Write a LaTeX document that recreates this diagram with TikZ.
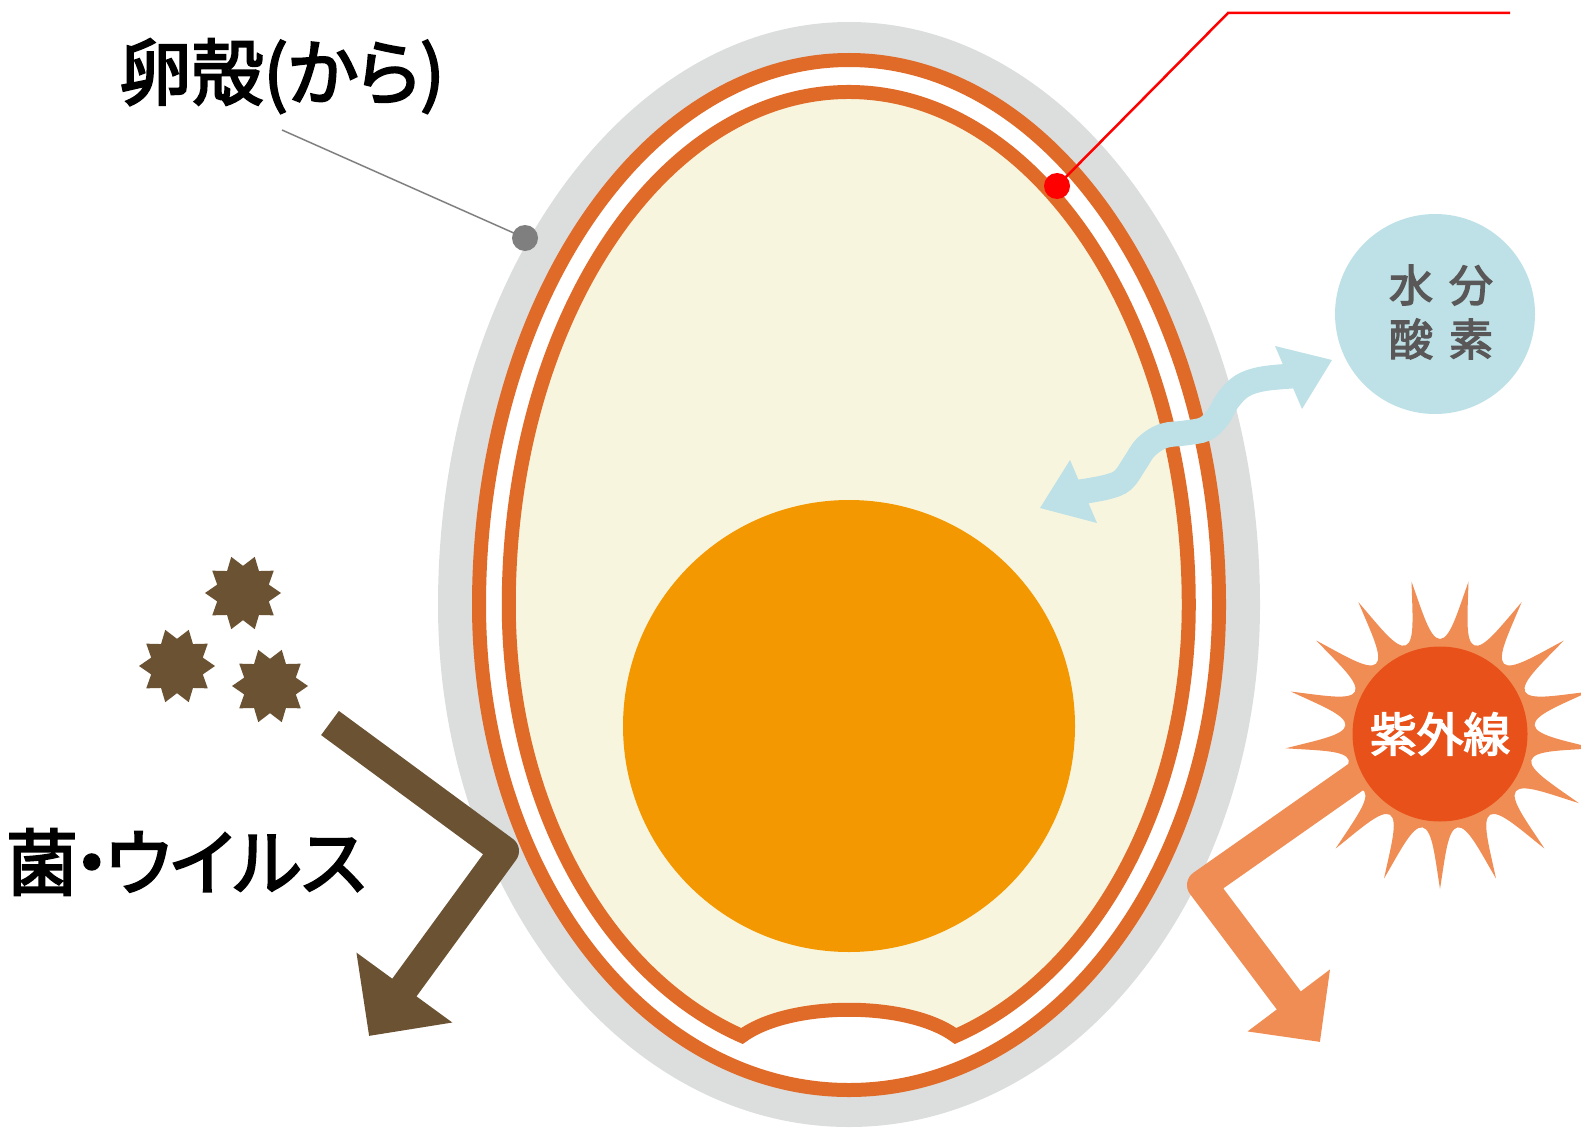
\documentclass[tikz,border=0pt]{standalone}
\usepackage{fontspec}
\usepackage{tikz}
\usetikzlibrary{arrows.meta,shapes.geometric}
\newfontfamily\jpfont[RawFeature=+palt, FakeBold=3]{Noto Sans CJK JP}

\definecolor{shellgray}{HTML}{DCDDDD}
\definecolor{skinorange}{HTML}{E06A27}
\definecolor{whitecream}{HTML}{F8F5DF}
\definecolor{yolkorange}{HTML}{F39800}
\definecolor{airblue}{HTML}{BDE1E6}
\definecolor{germbrown}{HTML}{6A5233}
\definecolor{rayorange}{HTML}{F08D55}
\definecolor{sunred}{HTML}{E8521A}
\definecolor{textgray}{HTML}{595757}
\definecolor{pingray}{HTML}{7F7F7F}

\tikzset{
	germ/.style={star, star points=10, star point ratio=1.4, shape border rotate=18,
		minimum size=7.6mm, inner sep=0pt, fill=germbrown},
	bigarrow/.style={line width=3mm, line join=round},
	biglabel/.style={font=\jpfont\fontsize{20.5pt}{25pt}\selectfont, inner sep=0pt},
}

\begin{document}
\begin{tikzpicture}[x=0.1mm, y=-0.1mm]
		%%%%% START %%%%%
		\useasboundingbox (0,0) rectangle (1581,1128);
		
		% shell and the two membranes
		\fill[shellgray] (438,605) arc[start angle=180, end angle=360, x radius=411, y radius=583]
			arc[start angle=0, end angle=180, x radius=411, y radius=522] -- cycle;
		\draw[skinorange, line width=1.4mm, fill=white] (479,605) arc[start angle=180, end angle=360, x radius=370, y radius=545]
			arc[start angle=0, end angle=180, x radius=370, y radius=485] -- cycle;
		\draw[skinorange, line width=1.4mm, fill=whitecream] (742,1036) arc[start angle=108.3, end angle=180, x radius=340, y radius=454]
			arc[start angle=180, end angle=360, x radius=340, y radius=513]
			arc[start angle=0, end angle=71.7, x radius=340, y radius=454]
			.. controls (908,1001) and (790,1001) .. cycle;
		
		% yolk
		\fill[yolkorange] (849,726) circle[radius=226];
		
		% pointers
		\coordinate (shellfoot) at (282,130);
		\coordinate (shelldot) at (525,238);
		\draw[pingray, line width=0.15mm] (shellfoot) -- (shelldot);
		\fill[pingray] (shelldot) circle[radius=13];
		
		\coordinate (skindot) at (1057,186);
		\coordinate (skinbend) at (1228,13);
		\coordinate (skinend) at (1510,13);
		\draw[red, line width=0.25mm] (skindot) -- (skinbend) -- (skinend);
		\fill[red] (skindot) circle[radius=13];
		
		\node[biglabel] (shelllabel) at (282,76) {卵殻(から)};
		
		% water and oxygen
		\node[circle, fill=airblue, minimum size=20mm, inner sep=0pt] (air) at (1435,314) {};
		\node[text=textgray, align=center, inner sep=0pt,
			font=\jpfont\fontsize{12.5pt}{15.4pt}\selectfont] (airtext) at (1441,312) {水\hspace{1.6mm}分\\酸\hspace{1.6mm}素};
		\draw[airblue, line width=2.5mm]
			plot[smooth, tension=0.6] coordinates {(1080,492) (1107,487) (1123,480) (1135,463) (1146,447) (1163,436)
				(1185,433) (1205,429) (1218,417) (1228,400) (1242,386) (1262,379) (1292,376)};
		\fill[airblue] (1040,508) -- (1070,460) -- (1097,523) -- cycle;
		\fill[airblue] (1332,360) -- (1275,346) -- (1302,409) -- cycle;
		
		% germs
		\node[germ] (germa) at (243,593) {};
		\node[germ] (germb) at (177,666) {};
		\node[germ] (germc) at (270,686) {};
		\coordinate (germstart) at (330,723);
		\coordinate (germhit) at (504,851);
		\coordinate (germtip) at (369,1036);
		\draw[germbrown, bigarrow, -{Triangle[length=6mm,width=11.5mm]}] (germstart) -- (germhit) -- (germtip);
		\node[biglabel] (germlabel) at (186,862) {菌\kern-0.06em・\kern-0.06em ウイルス};
		
		% ultraviolet
		\coordinate (uvstart) at (1390,753);
		\coordinate (uvhit) at (1202,885);
		\coordinate (uvtip) at (1320,1042);
		\draw[rayorange, bigarrow, -{Triangle[length=5.2mm,width=10mm]}] (uvstart) -- (uvhit) -- (uvtip);
		\fill[rayorange, shift={(1440,734)}] (90:155)
			\foreach \i [evaluate=\i as \a using {90+\i*360/17}] in {0,...,16} {
				.. controls (\a+2.5:122) and (\a+4.5:96) .. (\a+10.59:95)
				.. controls (\a+16.68:96) and (\a+18.68:122) .. (\a+21.18:155)
			} -- cycle;
		\node[circle, fill=sunred, minimum size=17.5mm, inner sep=0pt, text=white,
			font=\jpfont\fontsize{13.3pt}{16pt}\selectfont] (uv) at (1440,734) {紫外線};
		
		%%%%% END %%%%%
\end{tikzpicture}
\end{document}
